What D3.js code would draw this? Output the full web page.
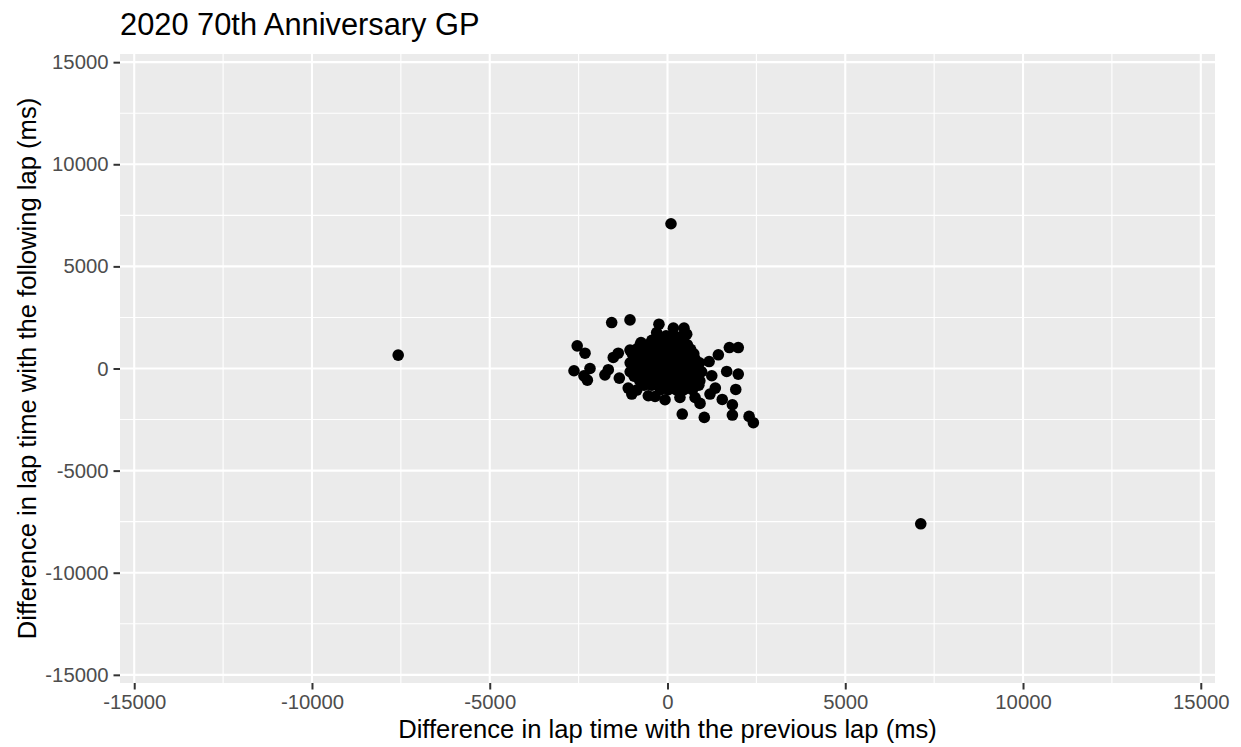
<!DOCTYPE html>
<html>
<head>
<meta charset="utf-8">
<script src="https://cdn.jsdelivr.net/npm/d3@7"></script>
<style>
  html, body { margin: 0; padding: 0; background: #ffffff; }
  svg { display: block; }
  text { font-family: "Liberation Sans", Arial, Helvetica, sans-serif; }
</style>
</head>
<body>
<svg id="chart" width="1241" height="747"></svg>
<script>
// ---- data (ms) ----
const chartTitle = "2020 70th Anniversary GP";
const xLabel = "Difference in lap time with the previous lap (ms)";
const yLabel = "Difference in lap time with the following lap (ms)";
const tickValues = [-15000, -10000, -5000, 0, 5000, 10000, 15000];
const minorValues = [-12500, -7500, -2500, 2500, 7500, 12500];

// outliers
const outlierPrev = [-7575, 7124, 98];
const outlierNext = [655, -7605, 7087];

// edge points of the central cluster
const edgePrev = [-1570, -1055, -2540, -2320, -2630, -2180, -2350, -2255, -1760, -1665,
  -1355, -1525, -1385, -1055, -745, -1105, -865, -1005, -540, -350,
  -70, 350, 415, 1035, 915, 775, 1195, 1345, 1540, 1825,
  1825, 2295, 2415, 1920, 1990, 1665, 1245, 1170, 1430, 1740,
  1990, -240, -305, 165, 465, 540, -210, 25, 585, 775];
const edgeNext = [2250, 2380, 1110, 750, -110, 0, -360, -570, -310, -60,
  -470, 540, 750, 900, 1270, -960, -1055, -1250, -1335, -1370,
  -1530, -1420, -2230, -2395, -1710, -1420, -1250, -960, -1515, -1775,
  -2280, -2345, -2655, -1025, -275, -145, -355, 340, 670, 1025,
  1025, 2170, 1760, 1975, 1975, 1680, 1195, 1515, 950, 460];

// dense core of the cluster
const corePrev = [-270, -40, 190, 420,
  -440, -220, 0, 230, 450,
  -770, -560, -330, -110, 120, 340, 560,
  -880, -650, -420, -190, 30, 260, 480, 650,
  -990, -760, -530, -300, -80, 150, 370, 590, 740,
  -900, -670, -440, -210, 20, 250, 470, 690,
  -1050, -820, -600, -370, -140, 90, 310, 530, 760, 900,
  -940, -710, -480, -250, -20, 200, 420, 650, 850,
  -1050, -830, -600, -380, -150, 70, 300, 520, 750, 960,
  -940, -710, -490, -260, -40, 190, 410, 640, 860,
  -780, -560, -330, -100, 120, 350, 570, 800, 910,
  -660, -440, -210, 10, 230, 460, 690, 880,
  -200, 20, 240, 460, 700];
const coreNext = [1600, 1600, 1600, 1600,
  1380, 1380, 1380, 1380, 1380,
  1160, 1160, 1160, 1160, 1160, 1160, 1160,
  940, 940, 940, 940, 940, 940, 940, 940,
  720, 720, 720, 720, 720, 720, 720, 720, 720,
  500, 500, 500, 500, 500, 500, 500, 500,
  280, 280, 280, 280, 280, 280, 280, 280, 280, 280,
  60, 60, 60, 60, 60, 60, 60, 60, 60,
  -160, -160, -160, -160, -160, -160, -160, -160, -160, -160,
  -380, -380, -380, -380, -380, -380, -380, -380, -380,
  -600, -600, -600, -600, -600, -600, -600, -600, -600,
  -820, -820, -820, -820, -820, -820, -820, -820,
  -1040, -1040, -1040, -1040, -1040];

const prevDiff = [...corePrev, ...edgePrev, ...outlierPrev];
const nextDiff = [...coreNext, ...edgeNext, ...outlierNext];
const points = prevDiff.map((v, i) => ({ x: v, y: nextDiff[i] }));

// ---- layout ----
const svg = d3.select("#chart");
const panel = { left: 120, right: 1215, top: 54, bottom: 683 };

const x = d3.scaleLinear().domain([-15400, 15400]).range([panel.left, panel.right]);
const y = d3.scaleLinear().domain([-15400, 15400]).range([panel.bottom, panel.top]);

// panel background
svg.append("rect")
  .attr("x", panel.left).attr("y", panel.top)
  .attr("width", panel.right - panel.left)
  .attr("height", panel.bottom - panel.top)
  .attr("fill", "#EBEBEB");

const grid = svg.append("g");
// minor grid
grid.selectAll("line.vmin").data(minorValues).enter().append("line")
  .attr("x1", d => x(d)).attr("x2", d => x(d))
  .attr("y1", panel.top).attr("y2", panel.bottom)
  .attr("stroke", "#ffffff").attr("stroke-width", 1.1);
grid.selectAll("line.hmin").data(minorValues).enter().append("line")
  .attr("y1", d => y(d)).attr("y2", d => y(d))
  .attr("x1", panel.left).attr("x2", panel.right)
  .attr("stroke", "#ffffff").attr("stroke-width", 1.1);
// major grid
grid.selectAll("line.vmaj").data(tickValues).enter().append("line")
  .attr("x1", d => x(d)).attr("x2", d => x(d))
  .attr("y1", panel.top).attr("y2", panel.bottom)
  .attr("stroke", "#ffffff").attr("stroke-width", 2.1);
grid.selectAll("line.hmaj").data(tickValues).enter().append("line")
  .attr("y1", d => y(d)).attr("y2", d => y(d))
  .attr("x1", panel.left).attr("x2", panel.right)
  .attr("stroke", "#ffffff").attr("stroke-width", 2.1);

// points
svg.append("g").selectAll("circle").data(points).enter().append("circle")
  .attr("cx", d => x(d.x)).attr("cy", d => y(d.y))
  .attr("r", 5.8).attr("fill", "#000000");

// axes
const fmt = d => String(d);
const xAxis = d3.axisBottom(x).tickValues(tickValues).tickSize(6.5).tickPadding(5).tickFormat(fmt);
const yAxis = d3.axisLeft(y).tickValues(tickValues).tickSize(6.5).tickPadding(5).tickFormat(fmt);

const gx = svg.append("g").attr("transform", `translate(0,${panel.bottom})`).call(xAxis);
const gy = svg.append("g").attr("transform", `translate(${panel.left},0)`).call(yAxis);
[gx, gy].forEach(g => {
  g.select(".domain").remove();
  g.selectAll(".tick line").attr("stroke", "#333333").attr("stroke-width", 2);
  g.selectAll(".tick text").attr("fill", "#4D4D4D").style("font-size", "20.3px")
    .style("font-family", "'Liberation Sans', Arial, Helvetica, sans-serif");
});

// titles
svg.append("text")
  .attr("x", panel.left).attr("y", 35)
  .attr("fill", "#000000").style("font-size", "30.8px")
  .text(chartTitle);

svg.append("text")
  .attr("x", (panel.left + panel.right) / 2).attr("y", 738)
  .attr("text-anchor", "middle")
  .attr("fill", "#000000").style("font-size", "25.6px")
  .text(xLabel);

svg.append("text")
  .attr("transform", `translate(36,${(panel.top + panel.bottom) / 2}) rotate(-90)`)
  .attr("text-anchor", "middle")
  .attr("fill", "#000000").style("font-size", "25.6px")
  .text(yLabel);
</script>
</body>
</html>
